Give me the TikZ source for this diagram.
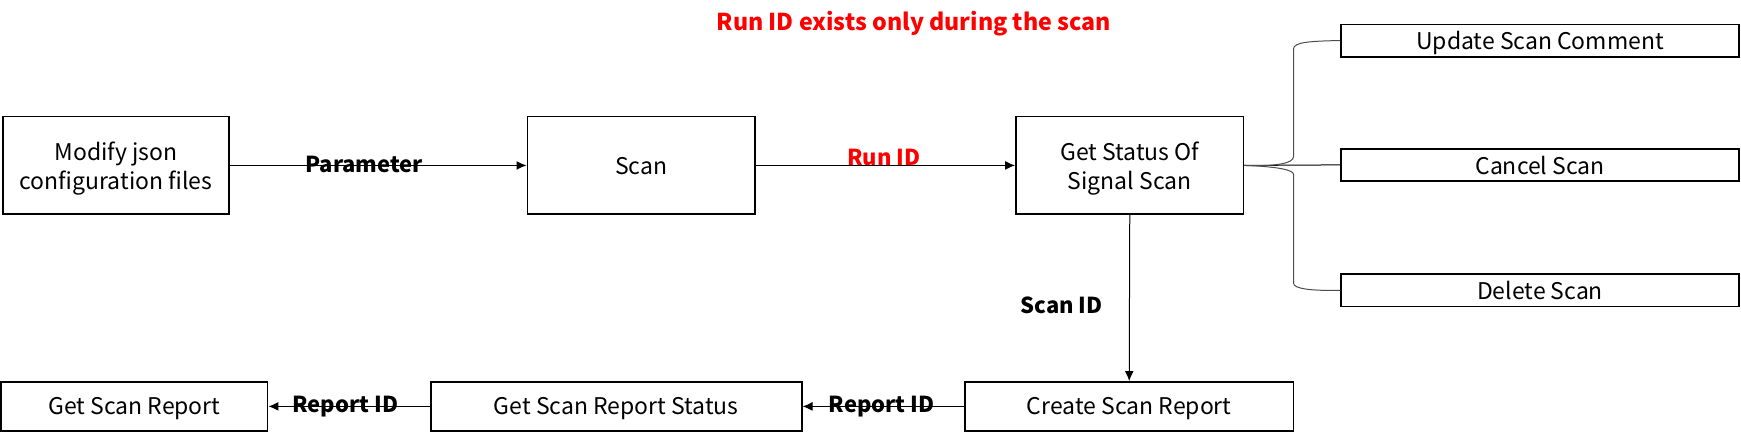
\documentclass[tikz,border=0pt]{standalone}
\usepackage{fontspec}
\setmainfont{Noto Sans CJK SC}
\usetikzlibrary{arrows.meta}
\begin{document}
\begin{tikzpicture}[x=1pt,y=-1pt,
  box/.style={draw=black,line width=1.6pt,inner sep=0pt,font=\fontsize{20.7}{26}\selectfont,align=center,text depth=-1pt},
  conn/.style={line width=0.9pt,-{Latex[length=9pt,width=8pt]}},
  plainline/.style={line width=0.9pt},
  lbl/.style={font=\fontsize{19.8}{22}\bfseries\selectfont,inner sep=0pt},
  redlbl/.style={lbl,text=red},
  bracel/.style={line width=0.9pt,draw=black!70}]
\useasboundingbox (0,0) rectangle (1568,393.6);
\node[box,minimum width=203pt,minimum height=88pt] (mod) at (104.5,149) {Modify json\\configuration files};
\node[box,minimum width=205pt,minimum height=88pt] (scan) at (577.5,149) {Scan};
\node[box,minimum width=205pt,minimum height=88pt] (st) at (1017.5,149) {Get Status Of\\Signal Scan};
\node[box,minimum width=358pt,minimum height=29pt] (upd) at (1387,36.5) {Update Scan Comment};
\node[box,minimum width=358pt,minimum height=29pt] (can) at (1387,148.5) {Cancel Scan};
\node[box,minimum width=358pt,minimum height=29pt] (del) at (1387,261.5) {Delete Scan};
\node[box,minimum width=240pt,minimum height=44pt] (gsr) at (121,366) {Get Scan Report};
\node[box,minimum width=334pt,minimum height=44pt] (gsrs) at (555,366) {Get Scan Report Status};
\node[box,minimum width=296pt,minimum height=44pt] (csr) at (1017,366) {Create Scan Report};
\node[redlbl,font=\fontsize{20.9}{24}\bfseries\selectfont] (title) at (823,21) {Run ID exists only during the scan};
\draw[conn] (mod.east) -- (scan.west);
\node[lbl] (par) at (328,148) {Parameter};
\draw[conn] (scan.east) -- (st.west);
\node[redlbl] (rid) at (796,142) {Run ID};
\draw[conn] (st.south) -- (csr.north);
\node[lbl] (sid) at (956,275) {Scan ID};
\draw[conn] (csr.west) -- (gsrs.east);
\node[lbl] (rep2) at (794,366) {Report ID};
\draw[conn] (gsrs.west) -- (gsr.east);
\node[lbl] (rep1) at (311,366) {Report ID};
\draw[plainline] (st.east) -- (can.west);
\coordinate (bt) at (1165,141);
\coordinate (bb) at (1165,157);
\coordinate (btt) at (1165,44);
\coordinate (bbb) at (1165,255);
\draw[bracel] (st.east) .. controls (1150,150) and (1165,147) .. (bt) -- (btt) .. controls (1165,38) and (1180,37) .. (upd.west);
\draw[bracel] (st.east) .. controls (1150,150) and (1165,153) .. (bb) -- (bbb) .. controls (1165,260) and (1180,262) .. (del.west);
\end{tikzpicture}
\end{document}
